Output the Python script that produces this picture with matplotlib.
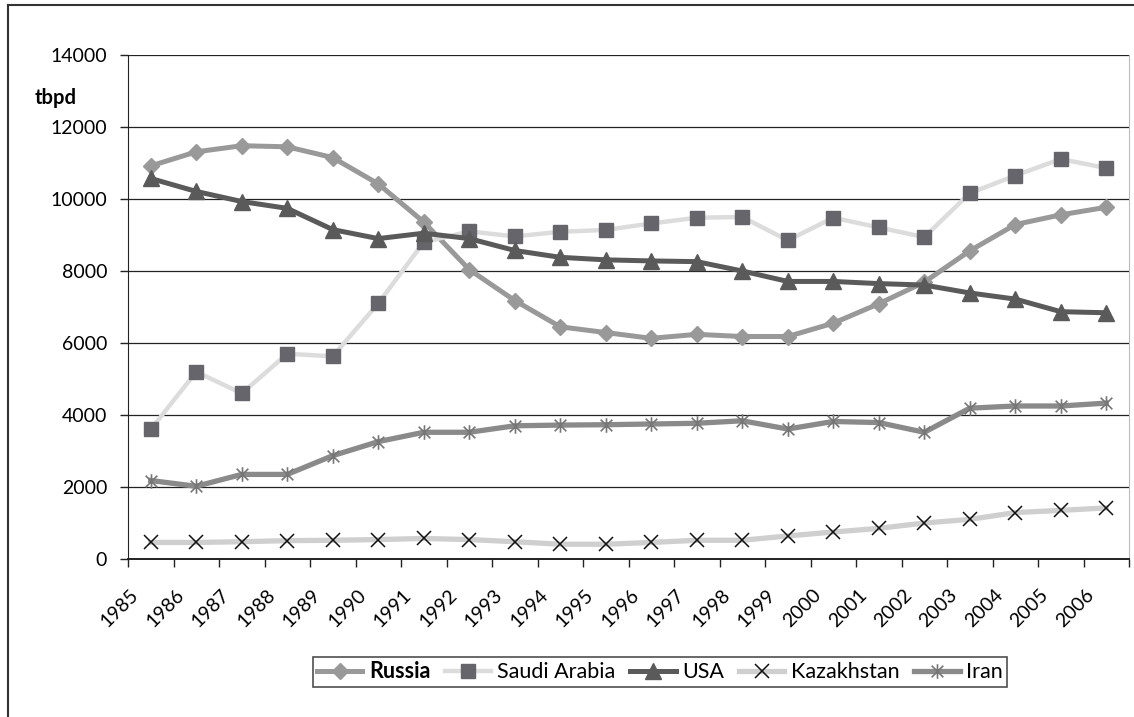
import matplotlib.pyplot as plt
import numpy as np
from matplotlib.path import Path
from matplotlib.lines import Line2D
from matplotlib.transforms import ScaledTranslation

plt.rcParams['font.family'] = ['Lato', 'DejaVu Sans']

years = ['1985', '1986', '1987', '1988', '1989', '1990', '1991', '1992', '1993', '1994', '1995',
         '1996', '1997', '1998', '1999', '2000', '2001', '2002', '2003', '2004', '2005', '2006']

# tbpd
russia = [10920, 11310, 11480, 11450, 11150, 10420, 9360, 8040, 7180, 6450, 6290,
          6130, 6240, 6180, 6180, 6550, 7090, 7690, 8560, 9290, 9560, 9770]
saudi = [3600, 5200, 4600, 5700, 5630, 7100, 8800, 9100, 8960, 9090, 9140,
         9320, 9480, 9500, 8850, 9480, 9210, 8940, 10160, 10650, 11110, 10860]
usa = [10570, 10210, 9930, 9740, 9150, 8900, 9050, 8900, 8570, 8380, 8310,
       8280, 8260, 8000, 7710, 7710, 7650, 7610, 7390, 7220, 6870, 6840]
kazakhstan = [460, 460, 480, 510, 520, 540, 570, 540, 480, 410, 410,
              460, 520, 520, 640, 750, 850, 1000, 1100, 1290, 1350, 1420]
iran = [2180, 2020, 2350, 2350, 2870, 3260, 3520, 3520, 3700, 3720, 3730,
        3750, 3770, 3840, 3610, 3820, 3790, 3520, 4190, 4250, 4250, 4330]

# excel style asterisk marker
asterisk = Path([(-1, -1), (1, 1), (-1, 1), (1, -1), (0, -1.25), (0, 1.25)],
                [Path.MOVETO, Path.LINETO] * 3)

fig = plt.figure(figsize=(11.34, 7.17), dpi=100)
ax = fig.add_axes([128 / 1134, 158 / 717, 1001 / 1134, 504 / 717])

x = np.arange(len(years))
ax.plot(x, russia, color='#999999', lw=3.6, marker='D', ms=8.5, label='Russia')
ax.plot(x, saudi, color='#dcdcdc', lw=3.2, marker='s', ms=10.5,
        mfc='#65656b', mec='#65656b', label='Saudi Arabia')
ax.plot(x, usa, color='#5a5a5a', lw=3.6, marker='^', ms=11, label='USA')
ax.plot(x, kazakhstan, color='#cfcfcf', lw=3.8, marker='x', ms=9.5,
        mec='#111111', mew=1.1, label='Kazakhstan')
ax.plot(x, iran, color='#8a8a8a', lw=3.8, marker=asterisk, ms=10.5,
        mec='#777777', mew=1.2, label='Iran')

ax.set_xlim(-0.5, len(years) - 0.5)
ax.set_ylim(0, 14000)
ax.set_yticks(range(0, 14001, 2000))
ax.yaxis.grid(True, color='#222222', lw=0.9)
ax.set_axisbelow(True)
ax.tick_params(axis='y', labelsize=14, length=6, width=1, color='#222222', pad=9)

# ticks on category borders, labels on category centres
ax.set_xticks(np.arange(-0.5, len(years), 1))
ax.set_xticklabels([])
ax.set_xticks(x, minor=True)
ax.set_xticklabels(years, minor=True, rotation=45, ha='right', va='center',
                   rotation_mode='anchor', fontsize=14)
ax.tick_params(axis='x', which='major', length=6, width=1, color='#222222')
ax.tick_params(axis='x', which='minor', length=0, pad=0)
off = ScaledTranslation(-0.15, -0.33, fig.dpi_scale_trans)
for lab in ax.get_xticklabels(minor=True):
    lab.set_transform(lab.get_transform() + off)

ax.spines['top'].set_visible(False)
ax.spines['right'].set_color('#bbbbbb')
ax.spines['left'].set_color('#222222')
ax.spines['bottom'].set_color('#222222')
ax.spines['bottom'].set_linewidth(1.4)

fig.text(35 / 1134, 1 - 98 / 717, 'tbpd', fontsize=14.5, fontweight='bold', va='center')

leg = fig.legend(loc='center', bbox_to_anchor=(660 / 1134, 1 - 672 / 717), ncol=5,
                 fontsize=15.5, frameon=True, fancybox=False, edgecolor='#222222',
                 handlelength=2.1, columnspacing=0.7, handletextpad=0.3,
                 borderpad=0.2, borderaxespad=0)
leg.get_frame().set_linewidth(1.2)
leg.get_texts()[0].set_fontweight('bold')

# chart outer border
fig.add_artist(Line2D([8 / 1134, 1], [1 - 5 / 717, 1 - 5 / 717], color='#333333', lw=1.5))
fig.add_artist(Line2D([8 / 1134, 8 / 1134], [0, 1 - 5 / 717], color='#333333', lw=1.5))

fig.savefig('out.png', dpi=100)
